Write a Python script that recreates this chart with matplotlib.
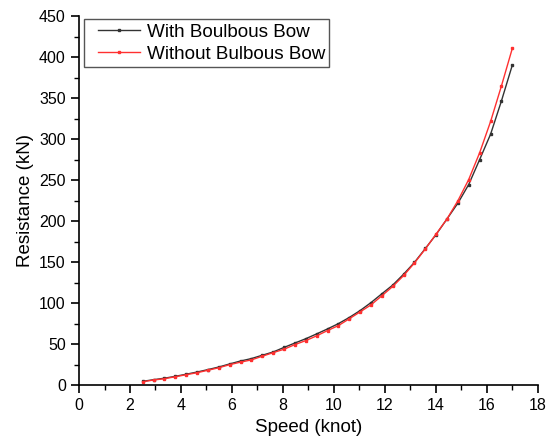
import matplotlib
matplotlib.use('Agg')
import matplotlib.pyplot as plt
from matplotlib.ticker import MultipleLocator
from matplotlib.patches import Rectangle

# speed (knot) and total resistance (kN)
speed = [2.50, 2.93, 3.35, 3.78, 4.21, 4.63, 5.06, 5.49, 5.91, 6.34,
         6.76, 7.19, 7.62, 8.04, 8.47, 8.90, 9.32, 9.75, 10.18, 10.60,
         11.03, 11.46, 11.88, 12.31, 12.74, 13.16, 13.59, 14.01, 14.44, 14.87,
         15.29, 15.72, 16.15, 16.57, 17.00]

with_bulb = [4.5, 6.5, 8.3, 10.6, 13.2, 15.8, 18.8, 22.0, 25.7, 29.3,
             32.2, 36.3, 40.3, 45.8, 51.2, 56.5, 62.3, 68.4, 74.9, 82.3,
             90.8, 100.6, 111.2, 121.9, 135.3, 149.5, 166.5, 183.5, 202.6, 222.0,
             244.5, 275.0, 306.0, 346.0, 390.0]

without_bulb = [4.0, 6.1, 7.7, 10.1, 12.6, 15.0, 18.0, 21.1, 24.8, 27.9,
                30.6, 35.1, 39.5, 43.6, 49.3, 54.2, 59.9, 66.4, 72.5, 80.7,
                89.2, 97.8, 108.8, 120.2, 133.6, 148.8, 166.0, 184.0, 202.6, 225.0,
                250.6, 283.3, 321.5, 364.3, 410.4]

labels = ['With Boulbous Bow', 'Without Bulbous Bow']

plt.rcParams['font.family'] = ['Liberation Sans', 'DejaVu Sans']

fig = plt.figure(figsize=(5.51, 4.45), dpi=100)
ax = fig.add_axes([0.1434, 0.1348, 0.8326, 0.8292])

ax.plot(speed, with_bulb, color='#333333', lw=1.0, marker='s', ms=1.8, label=labels[0])
ax.plot(speed, without_bulb, color='#ff3030', lw=1.0, marker='s', ms=1.8, label=labels[1])

ax.set_xlim(0, 18)
ax.set_ylim(0, 450)
ax.xaxis.set_major_locator(MultipleLocator(2))
ax.xaxis.set_minor_locator(MultipleLocator(1))
ax.yaxis.set_major_locator(MultipleLocator(50))
ax.yaxis.set_minor_locator(MultipleLocator(25))

ax.spines['top'].set_visible(False)
ax.spines['right'].set_visible(False)
for s in ['left', 'bottom']:
    ax.spines[s].set_linewidth(1.2)
ax.tick_params(which='major', direction='out', length=6, width=1.2, labelsize=11.5)
ax.tick_params(which='minor', direction='out', length=3.5, width=1.0)

ax.set_xlabel('Speed (knot)', fontsize=13.5)
ax.set_ylabel('Resistance (kN)', fontsize=13.5)

# legend without its own frame; a box with uneven padding is drawn around it
leg = ax.legend(loc='upper left', bbox_to_anchor=(0.0414, 0.979), fontsize=13.6,
                frameon=False, handlelength=2.2, numpoints=1, borderaxespad=0,
                borderpad=0, labelspacing=0.24, handletextpad=0.37)

fig.canvas.draw()
bb = leg.get_window_extent(fig.canvas.get_renderer())
W, H = fig.bbox.width, fig.bbox.height
x0, x1 = bb.x0 - 14, bb.x1 + 4
y0, y1 = bb.y0 - 4, bb.y1 + 5
fig.patches.append(Rectangle((x0 / W, y0 / H), (x1 - x0) / W, (y1 - y0) / H,
                             transform=fig.transFigure, fill=False,
                             edgecolor='#555555', linewidth=1.0))

fig.savefig('out.png', dpi=100)
